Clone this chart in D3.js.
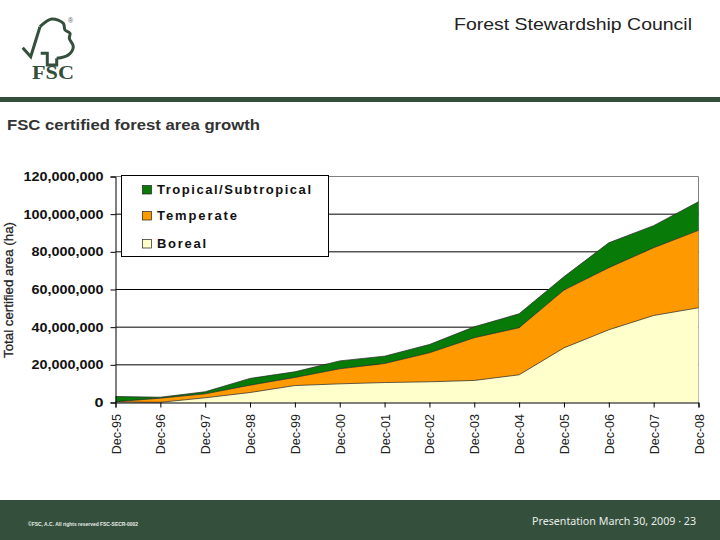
<!DOCTYPE html>
<html><head><meta charset="utf-8">
<script src="https://cdn.jsdelivr.net/npm/d3@7/dist/d3.min.js"></script>
<style>html,body{margin:0;padding:0;background:#fff}svg{display:block}text{font-family:"Liberation Sans",Arial,sans-serif}</style>
</head><body><svg id="c" width="720" height="540"></svg>
<script>
const years = [1995,1996,1997,1998,1999,2000,2001,2002,2003,2004,2005,2006,2007,2008];
const tickLabels = ["Dec-95","Dec-96","Dec-97","Dec-98","Dec-99","Dec-00","Dec-01","Dec-02","Dec-03","Dec-04","Dec-05","Dec-06","Dec-07","Dec-08"];
const boreal    = [0.3,0.1,2.5,5.3,9.0,9.9,10.6,11.0,11.7,14.7,29.0,38.6,46.2,50.3].map(v=>v*1e6);
const temperate = [0.1,2.2,2.1,3.9,4.3,8.0,10.1,15.4,22.7,25.0,30.7,33.0,36.0,41.1].map(v=>v*1e6);
const tropical  = [2.8,0.5,1.1,3.6,3.0,4.2,3.9,4.4,5.8,7.4,7.1,13.2,11.7,15.2].map(v=>v*1e6);
const yTicks = [0,20e6,40e6,60e6,80e6,100e6,120e6];
const legendNames = ["Tropical/Subtropical","Temperate","Boreal"];
const legendWidths = [154,80,49];
const legendColors = ["#077a07","#ff9900","#ffffcc"];

const svg = d3.select("#c");
const dark = "#34503c";
const x = d3.scaleLinear().domain([1995,2008]).range([115.5,698.5]);
const y = d3.scaleLinear().domain([0,120e6]).range([402.5,176.5]);

// slide frame
svg.append("rect").attr("x",0).attr("y",97).attr("width",720).attr("height",5).attr("fill",dark);
svg.append("rect").attr("x",0).attr("y",500).attr("width",720).attr("height",40).attr("fill",dark);
svg.append("text").attr("x",454).attr("y",30).attr("font-size",17).attr("fill","#222")
  .attr("textLength",238).attr("lengthAdjust","spacingAndGlyphs").text("Forest Stewardship Council");
svg.append("text").attr("x",7).attr("y",130).attr("font-size",14.5).attr("font-weight","bold").attr("fill","#333")
  .attr("textLength",253).attr("lengthAdjust","spacingAndGlyphs").text("FSC certified forest area growth");
svg.append("text").attr("x",28).attr("y",526).attr("font-size",5).attr("font-weight","bold").attr("fill","#e8ece8")
  .attr("textLength",110).attr("lengthAdjust","spacingAndGlyphs").text("©FSC, A.C. All rights reserved FSC-SECR-0002");
svg.append("text").attr("x",532).attr("y",525).attr("font-size",10.5).attr("fill","#e8ece8")
  .style("font-family","'Noto Sans'").attr("textLength",164).attr("lengthAdjust","spacingAndGlyphs").text("Presentation March 30, 2009  · 23");

// logo
const logo = [[22.7,47.7],[30.7,56.7],[40,26.7],[51.7,19],[63.3,23.3],[65,30],[70,33.3],[69.3,38.3],[73.3,46.7],[68.3,55],[56.7,58.3]];
svg.append("path").attr("d",d3.line().curve(d3.curveCatmullRom.alpha(.5))(logo.slice(2)))
  .attr("fill","none").attr("stroke",dark).attr("stroke-width",3);
svg.append("path").attr("d",d3.line()([logo[0],logo[1],logo[2]])).attr("fill","none").attr("stroke",dark).attr("stroke-width",3);
svg.append("path").attr("d",d3.line()([[56.7,58.3],[56.7,65],[47.3,65],[47.3,53.3],[40.7,53.3]])).attr("fill","none").attr("stroke",dark).attr("stroke-width",3);
svg.append("text").attr("x",32).attr("y",78.5).attr("font-size",18).attr("font-weight","bold").attr("fill",dark)
  .style("font-family","'Liberation Serif'").attr("textLength",42).attr("lengthAdjust","spacingAndGlyphs").text("FSC");
svg.append("text").attr("x",68).attr("y",23).attr("font-size",7).attr("fill","#555").text("®");

// chart frame and grid
svg.append("path").attr("d",`M${x.range()[0]},176.5H698.5V402.5`).attr("fill","none").attr("stroke","#808080");
const yAxis = d3.axisLeft(y).tickValues(yTicks).tickFormat(d3.format(",")).tickSize(5).tickPadding(7);
const gy = svg.append("g").attr("transform","translate(115.5,0)").call(yAxis);
svg.append("g").selectAll("line").data(yTicks.slice(1,-1)).join("line")
  .attr("x1",115.5).attr("x2",698.5).attr("y1",d=>y(d)).attr("y2",d=>y(d)).attr("stroke","#000");

// stacked areas
const rows = years.map((yr,i)=>({yr,Boreal:boreal[i],Temperate:temperate[i],Tropical:tropical[i]}));
const layers = d3.stack().keys(["Boreal","Temperate","Tropical"])(rows);
const fills = {Boreal:legendColors[2],Temperate:legendColors[1],Tropical:legendColors[0]};
const areaGen = d3.area().x(d=>x(d.data.yr)).y0(d=>y(d[0])).y1(d=>y(d[1]));
const topLine = d3.line().x(d=>x(d.data.yr)).y(d=>y(d[1]));
svg.append("g").selectAll("path").data(layers).join("path").attr("d",areaGen).attr("fill",d=>fills[d.key]);
svg.append("g").selectAll("path").data(layers).join("path").attr("d",topLine).attr("fill","none").attr("stroke","#222").attr("stroke-width",.7);

// axes on top
gy.raise();
gy.select(".domain").attr("stroke","#000");
gy.selectAll("line").attr("stroke","#000");
gy.selectAll("text").attr("font-size",12.5).attr("font-weight","bold").attr("fill","#111").attr("font-family","Liberation Sans")
  .attr("textLength",d=>d===0?9:(d>=100e6?80:72)).attr("lengthAdjust","spacingAndGlyphs");
const xAxis = d3.axisBottom(x).tickValues(years).tickFormat((d,i)=>tickLabels[i]).tickSize(5).tickPadding(0);
const gx = svg.append("g").attr("transform","translate(0,402.5)").call(xAxis);
gx.select(".domain").attr("stroke","#000");
gx.selectAll("line").attr("stroke","#000");
gx.selectAll("text").attr("font-size",12.5).attr("fill","#222").attr("font-family","Liberation Sans")
  .attr("text-anchor","end").attr("dy",0).attr("y",0)
  .attr("transform","translate(4.5,11.5) rotate(-90)");

svg.append("text").attr("transform","translate(12.5,358) rotate(-90)").attr("font-size",13).attr("fill","#222").attr("stroke","#222").attr("stroke-width",.25)
  .attr("textLength",136).attr("lengthAdjust","spacingAndGlyphs").text("Total certified area (ha)");

// legend
svg.append("rect").attr("x",121.5).attr("y",175.5).attr("width",207).attr("height",81).attr("fill","#fff").attr("stroke","#000");
const lg = svg.append("g").selectAll("g").data(legendNames).join("g")
  .attr("transform",(d,i)=>`translate(0,${[185,211,239][i]})`);
lg.append("rect").attr("x",142.5).attr("y",0.5).attr("width",9).attr("height",8.5)
  .attr("fill",(d,i)=>legendColors[i]).attr("stroke","#222").attr("stroke-width",.7);
lg.append("text").attr("x",157).attr("y",9).attr("font-size",13).attr("font-weight","bold").attr("fill","#111")
  .attr("textLength",(d,i)=>legendWidths[i]).attr("lengthAdjust","spacing").text(d=>d);
</script></body></html>
